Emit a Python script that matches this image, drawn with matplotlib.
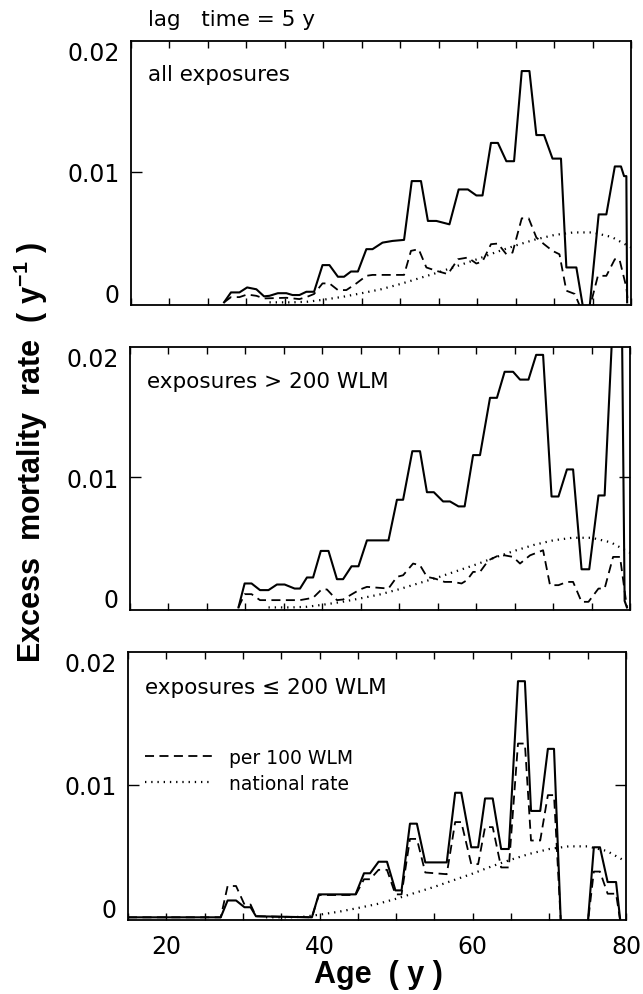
import matplotlib.pyplot as plt
from matplotlib.ticker import MultipleLocator, FuncFormatter

plt.rcParams['font.family'] = ['DejaVu Sans']
plt.rcParams['mathtext.fontset'] = 'custom'
plt.rcParams['mathtext.rm'] = 'Liberation Sans:bold'

# rates are read in units of 1e-3 per year
# panel 1: all exposures
age_all = [27.1, 28.0, 29.1, 30.1, 31.3, 32.3, 33.0, 34.1, 35.2, 36.0,
           36.9, 37.8, 38.8, 39.9, 40.8, 41.9, 42.7, 43.6, 44.5, 45.6,
           46.4, 47.7, 49.0, 50.5, 51.5, 52.7, 53.6, 54.7, 56.4, 57.6,
           58.8, 59.9, 60.7, 61.8, 62.7, 63.8, 64.8, 65.8, 66.8, 67.7,
           68.7, 69.8, 70.9, 71.6, 72.9, 73.8, 74.6, 75.8, 76.8, 77.9,
           78.7, 79.1, 79.4, 79.5]
rate_all = [0, 0.76, 0.76, 1.14, 1.0, 0.46, 0.5, 0.7, 0.7, 0.56,
            0.56, 0.81, 0.81, 2.85, 2.85, 1.96, 1.96, 2.36, 2.36, 4.07,
            4.07, 4.57, 4.7, 4.78, 9.28, 9.28, 6.23, 6.23, 5.97, 8.64,
            8.64, 8.18, 8.18, 12.2, 12.2, 10.8, 10.8, 17.7, 17.7, 12.8,
            12.8, 11.0, 11.0, 2.67, 2.67, -0.5, -0.5, 6.73, 6.73, 10.4,
            10.4, 9.66, 9.66, 0]
age_all_100 = [27.1, 28.0, 29.1, 30.1, 31.3, 32.3, 35.2, 36.9, 37.8, 38.8,
               39.9, 40.8, 41.9, 43.0, 44.3, 45.6, 46.4, 47.7, 49.5, 50.5,
               51.4, 52.4, 53.4, 54.7, 56.2, 57.5, 58.8, 59.9, 60.7, 61.8,
               62.7, 63.8, 64.6, 65.8, 66.7, 67.7, 68.7, 69.8, 70.7, 71.6,
               72.7, 73.5, 74.6, 75.7, 76.8, 77.9, 78.5, 79.4, 79.6]
rate_all_100 = [0, 0.4, 0.4, 0.6, 0.5, 0.3, 0.35, 0.25, 0.4, 0.64,
                1.45, 1.45, 0.94, 0.94, 1.45, 2.03, 2.1, 2.1, 2.1, 2.1,
                3.94, 4.07, 2.67, 2.41, 2.16, 3.3, 3.43, 2.97, 3.13, 4.45,
                4.5, 3.68, 3.81, 6.43, 6.43, 4.96, 4.45, 3.94, 3.68, 0.89,
                0.64, -0.5, -0.5, 2.03, 2.03, 3.3, 3.3, 1.14, 0]

# panel 2: exposures > 200 WLM
age_hi = [29.1, 29.9, 30.8, 31.9, 33.0, 34.1, 35.1, 36.4, 37.1, 38.0,
          38.8, 39.8, 40.8, 41.9, 42.7, 43.8, 44.7, 45.8, 48.6, 49.7,
          50.5, 51.7, 52.7, 53.6, 54.5, 55.7, 56.6, 57.7, 58.5, 59.6,
          60.5, 61.8, 62.7, 63.7, 64.8, 65.7, 66.8, 67.8, 68.7, 69.8,
          70.7, 71.8, 72.6, 73.7, 74.7, 75.9, 76.7, 78.0, 78.9, 79.3,
          79.6]
rate_hi = [0, 1.84, 1.84, 1.33, 1.33, 1.76, 1.76, 1.45, 1.45, 2.3,
           2.3, 4.34, 4.34, 2.17, 2.17, 3.16, 3.16, 5.15, 5.15, 8.27,
           8.27, 12.0, 12.0, 8.85, 8.85, 8.14, 8.14, 7.76, 7.76, 11.7,
           11.7, 16.1, 16.1, 18.1, 18.1, 17.5, 17.5, 19.4, 19.4, 8.52,
           8.52, 10.6, 10.6, 2.93, 2.93, 8.6, 8.6, 25.0, 25.0, 0.5,
           0]
age_hi_100 = [29.1, 29.9, 30.8, 31.9, 37.1, 38.8, 39.9, 40.6, 41.9, 42.7,
              43.8, 44.9, 45.8, 48.6, 49.7, 50.5, 51.8, 52.7, 53.6, 54.6,
              55.9, 57.0, 58.1, 58.8, 59.6, 60.5, 61.6, 62.7, 63.7, 64.8,
              65.7, 67.0, 68.7, 69.6, 70.7, 71.8, 72.6, 73.7, 74.6, 75.9,
              76.7, 77.8, 78.7, 79.4, 79.6]
rate_hi_100 = [0, 1.02, 1.02, 0.56, 0.56, 0.74, 1.38, 1.38, 0.56, 0.61,
               1.0, 1.38, 1.58, 1.45, 2.35, 2.47, 3.37, 3.24, 2.35, 2.22,
               1.96, 1.96, 1.84, 2.09, 2.73, 2.73, 3.62, 3.93, 4.0, 3.88,
               3.37, 4.0, 4.39, 1.71, 1.71, 1.96, 1.96, 0.43, 0.43, 1.45,
               1.45, 3.88, 3.88, 0.84, 0]

# panel 3: exposures <= 200 WLM
age_lo = [15.0, 27.1, 28.0, 29.1, 30.2, 31.0, 31.7, 39.0, 39.9, 44.7,
          45.8, 46.6, 47.7, 48.8, 49.9, 50.7, 51.8, 52.7, 53.8, 56.6,
          57.7, 58.5, 59.8, 60.7, 61.6, 62.6, 63.7, 64.7, 65.9, 66.8,
          67.6, 68.8, 69.8, 70.6, 71.5, 75.0, 75.8, 76.6, 77.6, 78.7,
          79.3]
rate_lo = [0, 0, 1.27, 1.27, 0.76, 0.76, 0.08, 0, 1.73, 1.73,
           3.32, 3.32, 4.19, 4.19, 2.03, 2.03, 7.06, 7.06, 4.14, 4.14,
           9.39, 9.39, 5.28, 5.28, 8.96, 8.96, 5.15, 5.15, 17.8, 17.8,
           8.02, 8.02, 12.7, 12.7, -0.5, -0.5, 5.28, 5.28, 2.66, 2.66,
           -0.5]
rate_lo_100 = [0, 0, 2.36, 2.36, 0.96, 0.96, 0.08, 0, 1.68, 1.68,
               2.87, 2.87, 3.58, 3.58, 1.73, 1.73, 5.91, 5.91, 3.38, 3.25,
               7.18, 7.18, 4.01, 4.01, 6.8, 6.8, 3.76, 3.76, 13.1, 13.1,
               5.79, 5.79, 9.21, 9.21, -0.5, -0.5, 3.45, 3.45, 1.78, 1.78,
               -0.5]

# national rate (same in all panels)
age_nat = [33, 36, 38, 40, 42.5, 45, 47.5, 50, 52.5, 55,
           57.5, 60, 62.5, 65, 67.5, 70, 72.5, 75, 77.5, 80]
rate_nat = [0, 0, 0.05, 0.2, 0.42, 0.7, 1.0, 1.4, 1.85, 2.3,
            2.8, 3.3, 3.85, 4.35, 4.8, 5.15, 5.35, 5.35, 5.0, 4.2]

panels = [
    ('all exposures', age_all, rate_all, age_all_100, rate_all_100),
    ('exposures > 200 WLM', age_hi, rate_hi, age_hi_100, rate_hi_100),
    ('exposures \u2264 200 WLM', age_lo, rate_lo, age_lo, rate_lo_100),
]

scale = 1e-3
fig = plt.figure(figsize=(6.43, 9.95), dpi=100)
# the scanned panels are slightly skewed, so each gets its own box
boxes = [[0.2037, 0.6925, 0.7776, 0.2653],
         [0.2022, 0.3859, 0.7776, 0.2643],
         [0.1991, 0.0744, 0.7745, 0.2693]]
title_y = [0.875, 0.872, 0.869]

for i, (title, xa, ya, xd, yd) in enumerate(panels):
    ax = fig.add_axes(boxes[i])
    ax.plot(xa, [v * scale for v in ya], color='black', lw=1.5)
    h_dash, = ax.plot(xd, [v * scale for v in yd], color='black', lw=1.3,
                      ls=(0, (5, 3)))
    h_dot, = ax.plot(age_nat, [v * scale for v in rate_nat], color='black',
                     lw=1.6, ls=(0, (0.6, 2.2)))
    ax.set_xlim(15, 80)
    ax.set_ylim(-0.0002, 0.02)
    for s in ax.spines.values():
        s.set_linewidth(1.3)

    ax.xaxis.set_major_locator(MultipleLocator(5))
    ax.tick_params(axis='x', direction='in', top=True, length=5, width=1,
                   labelsize=17, pad=10)
    if i == 2:
        ax.xaxis.set_major_formatter(
            FuncFormatter(lambda x, p: '%d' % x if round(x) % 20 == 0 else ''))
    else:
        ax.xaxis.set_major_formatter(FuncFormatter(lambda x, p: ''))

    ax.set_yticks([0, 0.01, 0.02])
    ax.set_yticklabels(['0', '0.01', '0.02'])
    ax.tick_params(axis='y', direction='in', length=8, width=1,
                   labelsize=17, pad=8, right=(i > 0))
    yt = ax.yaxis.get_major_ticks()
    for k in (0, 2):
        yt[k].tick1line.set_visible(False)
        yt[k].tick2line.set_visible(False)
    labs = ax.get_yticklabels()
    labs[0].set_va('baseline')
    labs[2].set_va('top')

    ax.text(0.034, title_y[i], title, transform=ax.transAxes, fontsize=15.5,
            va='center', ha='left')

    if i == 2:
        ax.legend([h_dash, h_dot], ['per 100 WLM', 'national rate'],
                  loc='upper left', bbox_to_anchor=(0.034, 0.642),
                  frameon=False, fontsize=13.5, handlelength=3.6,
                  handletextpad=0.9, labelspacing=0.35, borderpad=0,
                  borderaxespad=0)

fig.text(148 / 643, 1 - 20 / 995, 'lag   time = 5 y', fontsize=15.5,
         ha='left', va='center')
fig.text(0.0482, 0.5447, 'Excess  mortality  rate  ( y$^{-1}$ )',
         rotation=90, ha='center', va='center', fontsize=22,
         fontweight='bold', family='Liberation Sans')
fig.text(0.588, 0.0121, 'Age  ( y )', ha='center', va='baseline',
         fontsize=22, fontweight='bold', family='Liberation Sans')

fig.savefig('out.png', dpi=100)
